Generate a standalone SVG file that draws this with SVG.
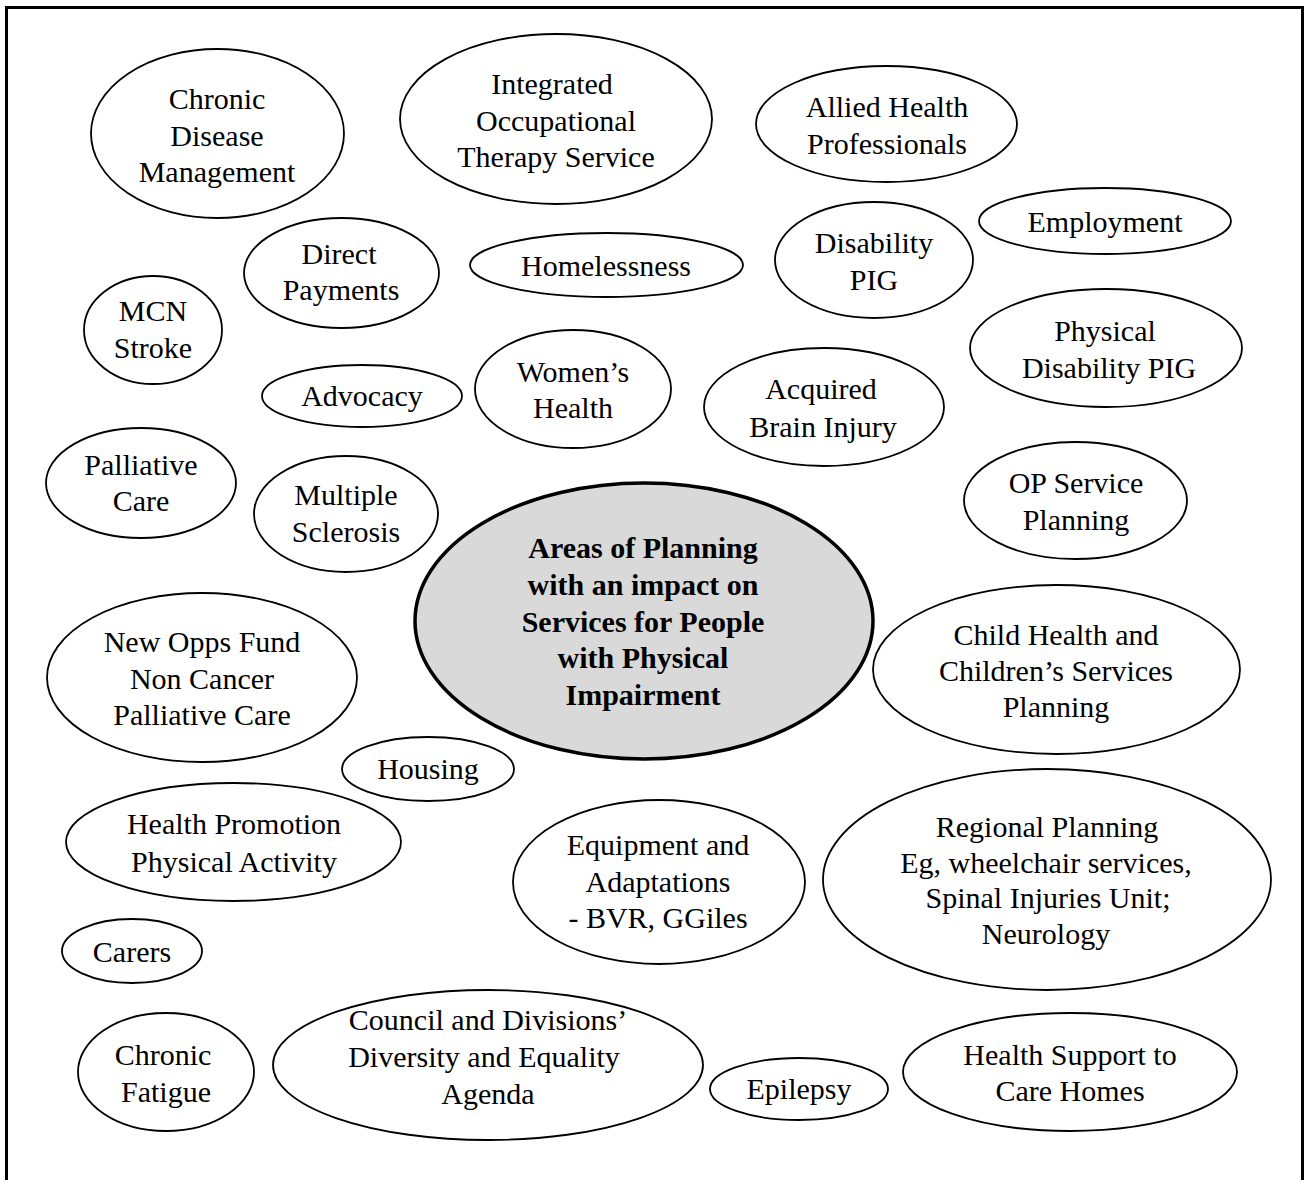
<svg xmlns="http://www.w3.org/2000/svg" width="1308" height="1180" viewBox="0 0 1308 1180">
<style>
.n{fill:#fff;stroke:#000;stroke-width:1.8}
.c{fill:#d9d9d9;stroke:#000;stroke-width:3.5}
text{font-family:"Liberation Serif","Times New Roman",serif;font-size:30px;text-anchor:middle;fill:#000}
.b{font-weight:bold}
</style>
<rect width="1308" height="1180" fill="#fff"/>
<path d="M6.5,1190 V7.5 H1302.5 V1190" fill="none" stroke="#000" stroke-width="3"/>
<g id="connectors"/>
<g id="n1"><ellipse class="n" cx="217.5" cy="133.5" rx="126.5" ry="84.5"/><text><tspan x="217" y="109">Chronic</tspan><tspan x="217" y="146">Disease</tspan><tspan x="217" y="182">Management</tspan></text></g>
<g id="n2"><ellipse class="n" cx="556" cy="119" rx="156" ry="85"/><text><tspan x="552" y="94">Integrated</tspan><tspan x="556" y="131">Occupational</tspan><tspan x="556" y="167">Therapy Service</tspan></text></g>
<g id="n3"><ellipse class="n" cx="886.5" cy="124" rx="130.5" ry="58"/><text><tspan x="887" y="117">Allied Health</tspan><tspan x="887" y="154">Professionals</tspan></text></g>
<g id="n4"><ellipse class="n" cx="1105" cy="221" rx="126" ry="33"/><text x="1105" y="232">Employment</text></g>
<g id="n5"><ellipse class="n" cx="341.5" cy="273" rx="97.5" ry="55"/><text><tspan x="339" y="264">Direct</tspan><tspan x="341" y="300">Payments</tspan></text></g>
<g id="n6"><ellipse class="n" cx="606.5" cy="265" rx="136.5" ry="32"/><text x="606" y="276">Homelessness</text></g>
<g id="n7"><ellipse class="n" cx="874" cy="260" rx="99" ry="58"/><text><tspan x="874" y="253">Disability</tspan><tspan x="874" y="290">PIG</tspan></text></g>
<g id="n8"><ellipse class="n" cx="153" cy="330" rx="69" ry="54"/><text><tspan x="153" y="321">MCN</tspan><tspan x="153" y="358">Stroke</tspan></text></g>
<g id="n9"><ellipse class="n" cx="1106" cy="348" rx="136" ry="59"/><text><tspan x="1105" y="341">Physical</tspan><tspan x="1109" y="378">Disability PIG</tspan></text></g>
<g id="n10"><ellipse class="n" cx="362" cy="396" rx="100" ry="31"/><text x="362" y="406">Advocacy</text></g>
<g id="n11"><ellipse class="n" cx="573" cy="389" rx="98" ry="59"/><text><tspan x="573" y="382">Women’s</tspan><tspan x="573" y="418">Health</tspan></text></g>
<g id="n12"><ellipse class="n" cx="824" cy="407" rx="120" ry="59"/><text><tspan x="821" y="399">Acquired</tspan><tspan x="823" y="437">Brain Injury</tspan></text></g>
<g id="n13"><ellipse class="n" cx="141" cy="483" rx="95" ry="55"/><text><tspan x="141" y="475">Palliative</tspan><tspan x="141" y="511">Care</tspan></text></g>
<g id="n14"><ellipse class="n" cx="346" cy="514" rx="92" ry="58"/><text><tspan x="346" y="505">Multiple</tspan><tspan x="346" y="542">Sclerosis</tspan></text></g>
<g id="n15"><ellipse class="n" cx="1075.5" cy="500.5" rx="111.5" ry="58.5"/><text><tspan x="1076" y="493">OP Service</tspan><tspan x="1076" y="530">Planning</tspan></text></g>
<g id="center"><ellipse class="c" cx="644" cy="621" rx="229" ry="138"/><text class="b"><tspan x="643" y="558">Areas of Planning</tspan><tspan x="643" y="595">with an impact on</tspan><tspan x="643" y="632">Services for People</tspan><tspan x="643" y="668">with Physical</tspan><tspan x="643" y="705">Impairment</tspan></text></g>
<g id="n17"><ellipse class="n" cx="202" cy="677.5" rx="155" ry="84.5"/><text><tspan x="202" y="652">New Opps Fund</tspan><tspan x="202" y="689">Non Cancer</tspan><tspan x="202" y="725">Palliative Care</tspan></text></g>
<g id="n18"><ellipse class="n" cx="1056.5" cy="669.5" rx="183.5" ry="84.5"/><text><tspan x="1056" y="645">Child Health and</tspan><tspan x="1056" y="681">Children’s Services</tspan><tspan x="1056" y="717">Planning</tspan></text></g>
<g id="n19"><ellipse class="n" cx="428" cy="769" rx="86" ry="32"/><text x="428" y="779">Housing</text></g>
<g id="n20"><ellipse class="n" cx="233.5" cy="842" rx="167.5" ry="59"/><text><tspan x="234" y="834">Health Promotion</tspan><tspan x="234" y="872">Physical Activity</tspan></text></g>
<g id="n21"><ellipse class="n" cx="659" cy="882" rx="146" ry="82"/><text><tspan x="658" y="855">Equipment and</tspan><tspan x="658" y="892">Adaptations</tspan><tspan x="658" y="928">- BVR, GGiles</tspan></text></g>
<g id="n22"><ellipse class="n" cx="1047" cy="879.5" rx="224" ry="110.5"/><text><tspan x="1047" y="837">Regional Planning</tspan><tspan x="1046" y="873">Eg, wheelchair services,</tspan><tspan x="1048" y="908">Spinal Injuries Unit;</tspan><tspan x="1046" y="944">Neurology</tspan></text></g>
<g id="n23"><ellipse class="n" cx="132" cy="951" rx="70" ry="32"/><text x="132" y="962">Carers</text></g>
<g id="n24"><ellipse class="n" cx="166" cy="1072" rx="88" ry="59"/><text><tspan x="163" y="1065">Chronic</tspan><tspan x="166" y="1102">Fatigue</tspan></text></g>
<g id="n25"><ellipse class="n" cx="488" cy="1065" rx="215" ry="75"/><text><tspan x="488" y="1030">Council and Divisions’</tspan><tspan x="484" y="1067">Diversity and Equality</tspan><tspan x="488" y="1104">Agenda</tspan></text></g>
<g id="n26"><ellipse class="n" cx="799" cy="1089" rx="89" ry="31"/><text x="799" y="1099">Epilepsy</text></g>
<g id="n27"><ellipse class="n" cx="1070" cy="1072" rx="167" ry="59"/><text><tspan x="1070" y="1065">Health Support to</tspan><tspan x="1070" y="1101">Care Homes</tspan></text></g>
</svg>
